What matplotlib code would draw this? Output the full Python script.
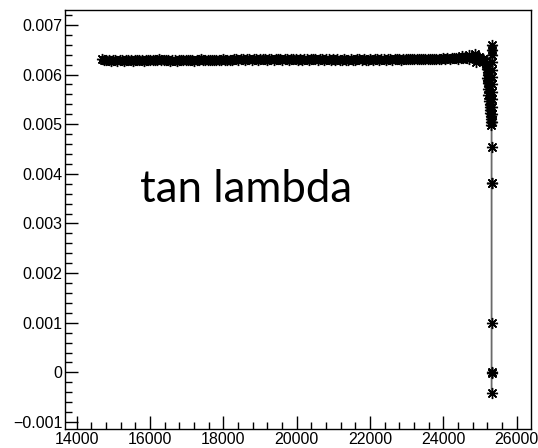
import matplotlib
matplotlib.use("Agg")
import matplotlib.pyplot as plt
from matplotlib.ticker import FixedLocator, MultipleLocator

# ---------------- data ----------------
# main band: x positions and tan(lambda) values (in units of 1e-5)
band_x = [14690, 14750, 14810, 14870, 14930, 14990, 15050, 15110, 15170, 15230,
          15290, 15350, 15410, 15470, 15530, 15590, 15650, 15710, 15770, 15830,
          15890, 15950, 16010, 16070, 16130, 16190, 16250, 16310, 16370, 16430,
          16490, 16550, 16610, 16670, 16730, 16790, 16850, 16910, 16970, 17030,
          17090, 17150, 17210, 17270, 17330, 17390, 17450, 17510, 17570, 17630,
          17690, 17750, 17810, 17870, 17930, 17990, 18050, 18110, 18170, 18230,
          18290, 18350, 18410, 18470, 18530, 18590, 18650, 18710, 18770, 18830,
          18890, 18950, 19010, 19070, 19130, 19190, 19250, 19310, 19370, 19430,
          19490, 19550, 19610, 19670, 19730, 19790, 19850, 19910, 19970, 20030,
          20090, 20150, 20210, 20270, 20330, 20390, 20450, 20510, 20570, 20630,
          20690, 20750, 20810, 20870, 20930, 20990, 21050, 21110, 21170, 21230,
          21290, 21350, 21410, 21470, 21530, 21590, 21650, 21710, 21770, 21830,
          21890, 21950, 22010, 22070, 22130, 22190, 22250, 22310, 22370, 22430,
          22490, 22550, 22610, 22670, 22730, 22790, 22850, 22910, 22970, 23030,
          23090, 23150, 23210, 23270, 23330, 23390, 23450, 23510, 23570, 23630,
          23690, 23750, 23810, 23870, 23930, 23990, 24050, 24110, 24170, 24230,
          24290, 24350, 24410, 24470, 24530, 24590, 24650, 24710, 24770, 24830,
          24890, 24950]
band_y = [631, 630, 630, 629, 628, 630, 629, 628, 630, 629,
          628, 630, 629, 630, 628, 629, 630, 630, 629, 628,
          630, 629, 630, 630, 629, 630, 631, 630, 629, 630,
          630, 628, 629, 630, 628, 630, 630, 629, 630, 630,
          629, 630, 628, 629, 630, 631, 630, 630, 629, 630,
          630, 630, 629, 630, 630, 631, 630, 629, 630, 630,
          631, 631, 630, 631, 631, 630, 631, 631, 630, 631,
          631, 630, 631, 631, 631, 630, 631, 631, 630, 631,
          631, 631, 630, 631, 631, 630, 631, 631, 631, 630,
          631, 630, 631, 631, 630, 631, 631, 631, 630, 631,
          631, 630, 631, 631, 630, 631, 629, 631, 630, 629,
          631, 630, 629, 631, 630, 629, 631, 631, 630, 631,
          629, 630, 631, 630, 631, 631, 630, 631, 631, 630,
          631, 631, 630, 631, 631, 631, 630, 631, 631, 631,
          631, 632, 631, 631, 632, 631, 632, 631, 632, 632,
          631, 632, 632, 631, 632, 633, 632, 633, 632, 633,
          633, 634, 632, 634, 633, 635, 634, 632, 636, 634,
          635, 633]

# bend towards the end of the range
bend_x = [24500, 24700, 24850, 24900, 24980, 25010, 25040, 25080, 25120, 25150,
          25180, 25200, 25210, 25220, 25200, 25230, 25210, 25240, 25220, 25250,
          25230, 25260, 25240, 25270, 25260, 25280, 25270, 25290, 25300, 25310,
          25300]
bend_y = [638, 640, 641, 626, 636, 632, 629, 631, 627, 622,
          618, 612, 606, 600, 594, 588, 582, 576, 570, 564,
          558, 552, 546, 540, 534, 528, 522, 516, 510, 504,
          498]

# final vertical group
tail_x = [25315] * 19
tail_y = [660, 650, 640, 625, 610, 595, 580, 565, 550, 535,
          520, 505, 455, 382, 381, 99, 1, -1, -41]

y_ticks = [-0.001, 0.0, 0.001, 0.002, 0.003, 0.004, 0.005, 0.006, 0.007]
y_ticklabels = ["\u22120.001", "0", "0.001", "0.002", "0.003", "0.004",
                "0.005", "0.006", "0.007"]
x_ticks = [14000, 16000, 18000, 20000, 22000, 24000, 26000]
x_ticklabels = ["14000", "16000", "18000", "20000", "22000", "24000", "26000"]

label_text = "tan lambda"

# ---------------- figure ----------------
W, H = 538, 448
fig = plt.figure(figsize=(W / 100, H / 100), dpi=100)
ax = fig.add_axes([65 / W, 1 - 429 / H, (531 - 65) / W, (429 - 10) / H])

xs = band_x + bend_x + tail_x
ys = [v * 1e-5 for v in band_y + bend_y + tail_y]

ax.plot(xs, ys, color="#6a6a6a", linewidth=1.3,
        marker=(8, 2, 0), markersize=8, markeredgewidth=1.0,
        markeredgecolor="black", markerfacecolor="black")

ax.set_xlim(13680, 26390)
ax.set_ylim(-0.00114, 0.0073)

ax.xaxis.set_major_locator(FixedLocator(x_ticks))
ax.set_xticklabels(x_ticklabels)
ax.xaxis.set_minor_locator(MultipleLocator(400))
ax.yaxis.set_major_locator(FixedLocator(y_ticks))
ax.set_yticklabels(y_ticklabels)
ax.yaxis.set_minor_locator(MultipleLocator(0.0002))

for sp in ax.spines.values():
    sp.set_linewidth(1.0)
    sp.set_color("black")

ax.tick_params(axis="both", which="major", direction="in", length=9.5,
               width=1.0, top=False, right=False, labelsize=11.5, pad=2)
ax.tick_params(axis="both", which="minor", direction="in", length=5,
               width=1.0, top=False, right=False)
for lab in ax.get_xticklabels() + ax.get_yticklabels():
    lab.set_fontfamily("Liberation Sans")

fig.text(140 / W, 1 - 202 / H, label_text, fontsize=31.5, family="Lato",
         ha="left", va="baseline", color="black")

fig.savefig("out.png", dpi=100)
